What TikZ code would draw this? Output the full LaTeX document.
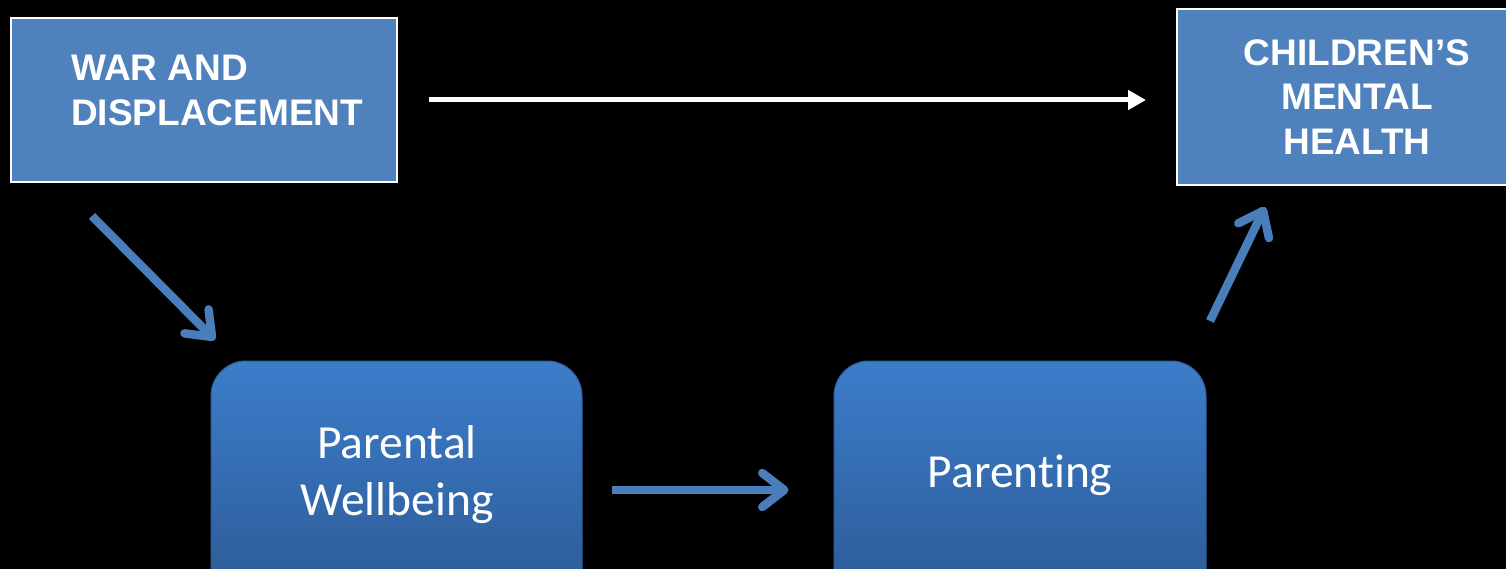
\documentclass[tikz,border=0pt]{standalone}
\usepackage{fontspec}
\setmainfont{Liberation Sans}
\newfontfamily\calib[Ligatures=NoCommon]{Carlito}
\usetikzlibrary{arrows.meta}
\definecolor{boxblue}{HTML}{4F81BD}
\definecolor{arrblue}{HTML}{4A7EBB}
\definecolor{gradtop}{HTML}{3C7DCA}
\definecolor{gradbot}{HTML}{2B5791}
\definecolor{rborder}{HTML}{30609C}
\tikzset{
  sqbox/.style={draw=white, line width=2pt, fill=boxblue, rectangle, inner sep=0pt},
  capstext/.style={text=white, font=\fontsize{37}{44.5}\selectfont\bfseries, inner sep=0pt},
  rbox/.style={draw=rborder, line width=1pt, rounded corners=35pt, top color=gradtop, bottom color=gradbot, rectangle, inner sep=0pt},
  softtext/.style={text=white, font=\calib\fontsize{47.5}{57}\selectfont, inner sep=0pt, align=center},
  bluearrow/.style={draw=arrblue, line width=8.5pt, -{Straight Barb[length=22pt,width=34pt,round]}},
  whitearrow/.style={draw=white, line width=5pt, -{Triangle[length=18pt,width=19pt]}}
}
\begin{document}
\begin{tikzpicture}[x=1pt,y=-1pt]
\fill[black] (0,0) rectangle (1506,569);
\useasboundingbox (0,0) rectangle (1506,569);
\clip (0,0) rectangle (1506,569);
% top boxes
\node[sqbox, minimum width=386pt, minimum height=164pt] (wd) at (204,100) {};
\node[capstext, anchor=west, align=left] (wdtext) at (71,90.5) {WAR AND\\DISPLACEMENT};
\node[sqbox, minimum width=340pt, minimum height=176pt] (cmh) at (1347,97) {};
\node[capstext, align=center] (cmhtext) at (1357,97) {CHILDREN’S\\MENTAL\\HEALTH};
% bottom rounded boxes
\node[rbox, minimum width=371pt, minimum height=260pt] (pw) at (396.5,491) {};
\node[softtext] (pwtext) at (397,475) {Parental\\Wellbeing};
\node[rbox, minimum width=372pt, minimum height=260pt] (pm) at (1020,491) {};
\node[softtext] (pmtext) at (1020,475) {Parenting};
% connectors
\draw[whitearrow, shorten <=31pt, shorten >=30pt] (wd.east |- 0,100) -- (cmh.west |- 0,100);
\coordinate (a1s) at (92,216);
\coordinate (a1e) at (215,340);
\draw[bluearrow] (a1s) -- (a1e);
\draw[bluearrow, shorten <=29pt, shorten >=45pt] (pw.east |- 0,490) -- (pm.west |- 0,490);
\coordinate (a3s) at (1210,321);
\coordinate (a3e) at (1265,207);
\draw[bluearrow] (a3s) -- (a3e);
\end{tikzpicture}
\end{document}
